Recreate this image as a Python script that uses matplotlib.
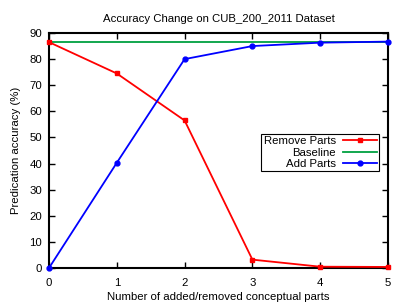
import matplotlib
matplotlib.use("Agg")
import matplotlib.pyplot as plt

x = [0, 1, 2, 3, 4, 5]
remove_parts = [86.5, 74.5, 56.5, 3.2, 0.5, 0.4]
add_parts = [0.0, 40.3, 80.0, 85.0, 86.3, 86.7]
baseline = [86.7] * 6
xticks = [0, 1, 2, 3, 4, 5]
yticks = [0, 10, 20, 30, 40, 50, 60, 70, 80, 90]

plt.rcParams['font.family'] = ['Liberation Sans', 'DejaVu Sans']
plt.rcParams['font.size'] = 8.2

fig = plt.figure(figsize=(4.07, 3.05), dpi=100)
ax = fig.add_axes([49/407, 37/305, 339/407, 235/305])

ax.plot(x, remove_parts, color='#ff0000', lw=1.3, marker='s', ms=3.5, label='Remove Parts', clip_on=False, zorder=3)
ax.plot(x, baseline, color='#00a040', lw=1.3, label='Baseline', clip_on=False, zorder=2)
ax.plot(x, add_parts, color='#0000ff', lw=1.3, marker='o', ms=3.5, label='Add Parts', clip_on=False, zorder=4)

ax.set_xlim(0, 5)
ax.set_ylim(0, 90)
ax.set_xticks(xticks)
ax.set_yticks(yticks)
ax.tick_params(axis='both', direction='in', top=True, right=True, length=4, width=1)
ax.tick_params(axis='x', pad=7)
ax.tick_params(axis='y', pad=5)
for s in ax.spines.values():
    s.set_linewidth(1.5)

ax.set_title('Accuracy Change on CUB_200_2011 Dataset', fontsize=8.2, pad=8)
ax.set_xlabel('Number of added/removed conceptual parts', labelpad=3)
ax.set_ylabel('Predication accuracy (%)', labelpad=6)

leg = ax.legend(loc='upper right', bbox_to_anchor=(330/339, (268-134)/235), borderaxespad=0,
                markerfirst=False, fancybox=False, framealpha=1, edgecolor='black',
                handlelength=3, borderpad=0.2, labelspacing=0.12, handletextpad=0.6)
leg.get_frame().set_linewidth(0.8)

fig.savefig('out.png', dpi=100)
